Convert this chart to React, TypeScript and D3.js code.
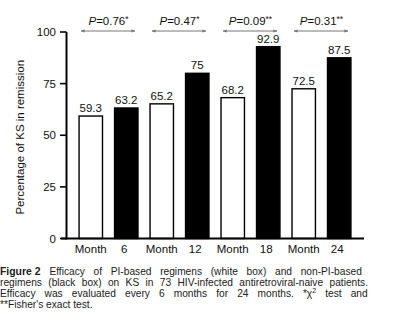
import React, { useLayoutEffect, useRef, useState } from "react";
import * as d3 from "d3";

const months = ["6", "12", "18", "24"];
const series = ["PI-based", "non-PI-based"];
// bar heights as drawn (the 75 bar is drawn taller than its label in the figure)
const piHeights = [59.3, 65.2, 68.2, 72.5];
const nonPiHeights = [63.2, 80, 92.9, 87.5];
const piLabels = ["59.3", "65.2", "68.2", "72.5"];
const nonPiLabels = ["63.2", "75", "92.9", "87.5"];
const pValues = ["0.76", "0.47", "0.09", "0.31"];
const pStars = ["*", "*", "**", "**"];
const yTicks = [0, 25, 50, 75, 100];

const captionLines = [
  "Efficacy of PI-based regimens (white box) and non-PI-based",
  "regimens (black box) on KS in 73 HIV-infected antiretroviral-naive patients.",
  "Efficacy was evaluated every 6 months for 24 months. *χ",
  "**Fisher's exact test.",
];

export default function App() {
  const W = 393;
  const H = 323;
  const x0 = 67;
  const x1 = 363;
  const capRight = 368;
  const yScale = d3.scaleLinear().domain([0, 100]).range([238.5, 32]);
  const idx = d3.range(8);
  const xBand = d3
    .scaleBand<number>()
    .domain(idx)
    .range([x0, x1])
    .paddingInner(0.34)
    .paddingOuter(0.34);
  const bw = xBand.bandwidth();
  const font = "'Liberation Sans', Arial, sans-serif";

  const r0 = useRef<SVGTextElement>(null);
  const r1 = useRef<SVGTextElement>(null);
  const r2 = useRef<SVGTextElement>(null);
  const [ws, setWs] = useState<number[] | null>(null);
  const gaps = [8, 9, 11];

  useLayoutEffect(() => {
    if (ws) return;
    const refs = [r0, r1, r2];
    const out = refs.map((r, i) => {
      const el = r.current;
      if (!el) return 0;
      const bb = el.getBBox();
      const w = bb.x + bb.width;
      return Math.max(0, (capRight - w) / gaps[i]);
    });
    setWs(out);
  }, [ws]);

  const bars: { i: number; v: number; label: string; black: boolean }[] = [];
  months.forEach((m, g) => {
    bars.push({ i: g * 2, v: piHeights[g], label: piLabels[g], black: false });
    bars.push({ i: g * 2 + 1, v: nonPiHeights[g], label: nonPiLabels[g], black: true });
  });

  const w = ws || [0, 0, 0];

  return (
    <div style={{ position: "absolute", left: 0, top: 0 }}>
      <svg width={W} height={H} style={{ display: "block", background: "#fff" }}>
        <defs>
          <marker id="ah" viewBox="0 0 10 10" refX="9" refY="5" markerWidth="4" markerHeight="4" orient="auto-start-reverse">
            <path d="M0,1 L10,5 L0,9 z" fill="#777" />
          </marker>
        </defs>
        {bars.map((b) => {
          const x = xBand(b.i)!;
          const y = yScale(b.v);
          return (
            <g key={b.i}>
              <rect
                x={x}
                y={y}
                width={bw}
                height={yScale(0) - y}
                fill={b.black ? "#000" : "#fff"}
                stroke="#000"
                strokeWidth={1.4}
              />
              <text x={x + bw / 2} y={y - 4} textAnchor="middle" fontFamily={font} fontSize={11.5} fill="#111">
                {b.label}
              </text>
            </g>
          );
        })}
        {months.map((m, g) => {
          const xa = xBand(g * 2)! + 2;
          const xb = xBand(g * 2 + 1)! + bw - 3;
          const cx = (xBand(g * 2)! + xBand(g * 2 + 1)! + bw) / 2;
          return (
            <g key={"p" + g}>
              <line
                x1={xa}
                x2={xb}
                y1={31}
                y2={31}
                stroke="#777"
                strokeWidth={1}
                markerStart="url(#ah)"
                markerEnd="url(#ah)"
              />
              <text x={cx} y={25} textAnchor="middle" fontFamily={font} fontSize={11.5} fill="#111">
                <tspan fontStyle="italic">P</tspan>
                <tspan>={pValues[g]}</tspan>
                <tspan fontSize={8.5} dy={-3}>{pStars[g]}</tspan>
              </text>
            </g>
          );
        })}
        <line x1={66.5} x2={66.5} y1={yScale(100)} y2={yScale(0) + 1} stroke="#000" strokeWidth={2} />
        {yTicks.map((t) => (
          <g key={"t" + t}>
            <line x1={60} x2={66.5} y1={yScale(t)} y2={yScale(t)} stroke="#000" strokeWidth={1.6} />
            <text x={56} y={yScale(t)} dy="0.35em" textAnchor="end" fontFamily={font} fontSize={11.5} fill="#111">
              {t}
            </text>
          </g>
        ))}
        <line x1={61} x2={364} y1={yScale(0)} y2={yScale(0)} stroke="#000" strokeWidth={2} />
        {months.map((m, g) => (
          <g key={"xl" + g}>
            <text x={xBand(g * 2)! + bw / 2} y={253} textAnchor="middle" fontFamily={font} fontSize={11.5} fill="#111">
              Month
            </text>
            <text x={xBand(g * 2 + 1)! + bw / 2 - 2} y={253} textAnchor="middle" fontFamily={font} fontSize={11.5} fill="#111">
              {m}
            </text>
          </g>
        ))}
        <text
          transform={`translate(24,${(yScale(0) + yScale(100)) / 2 + 2}) rotate(-90)`}
          textAnchor="middle"
          fontFamily={font}
          fontSize={11.5}
          fill="#111"
        >
          Percentage of KS in remission
        </text>
        <g fontFamily={font} fontSize={10.2} fill="#222">
          <text ref={r0} x={0} y={275}>
            <tspan fontWeight="bold" fontSize={10.4}>Figure 2</tspan>
            <tspan dx={9} wordSpacing={w[0]}>{captionLines[0]}</tspan>
          </text>
          <text ref={r1} x={0} y={286} wordSpacing={w[1]}>{captionLines[1]}</text>
          <text ref={r2} x={0} y={297} wordSpacing={w[2]}>
            <tspan>{captionLines[2]}</tspan>
            <tspan fontSize={7} dy={-4}>2</tspan>
            <tspan dy={4}> test and</tspan>
          </text>
          <text x={0} y={308}>{captionLines[3]}</text>
        </g>
      </svg>
    </div>
  );
}
